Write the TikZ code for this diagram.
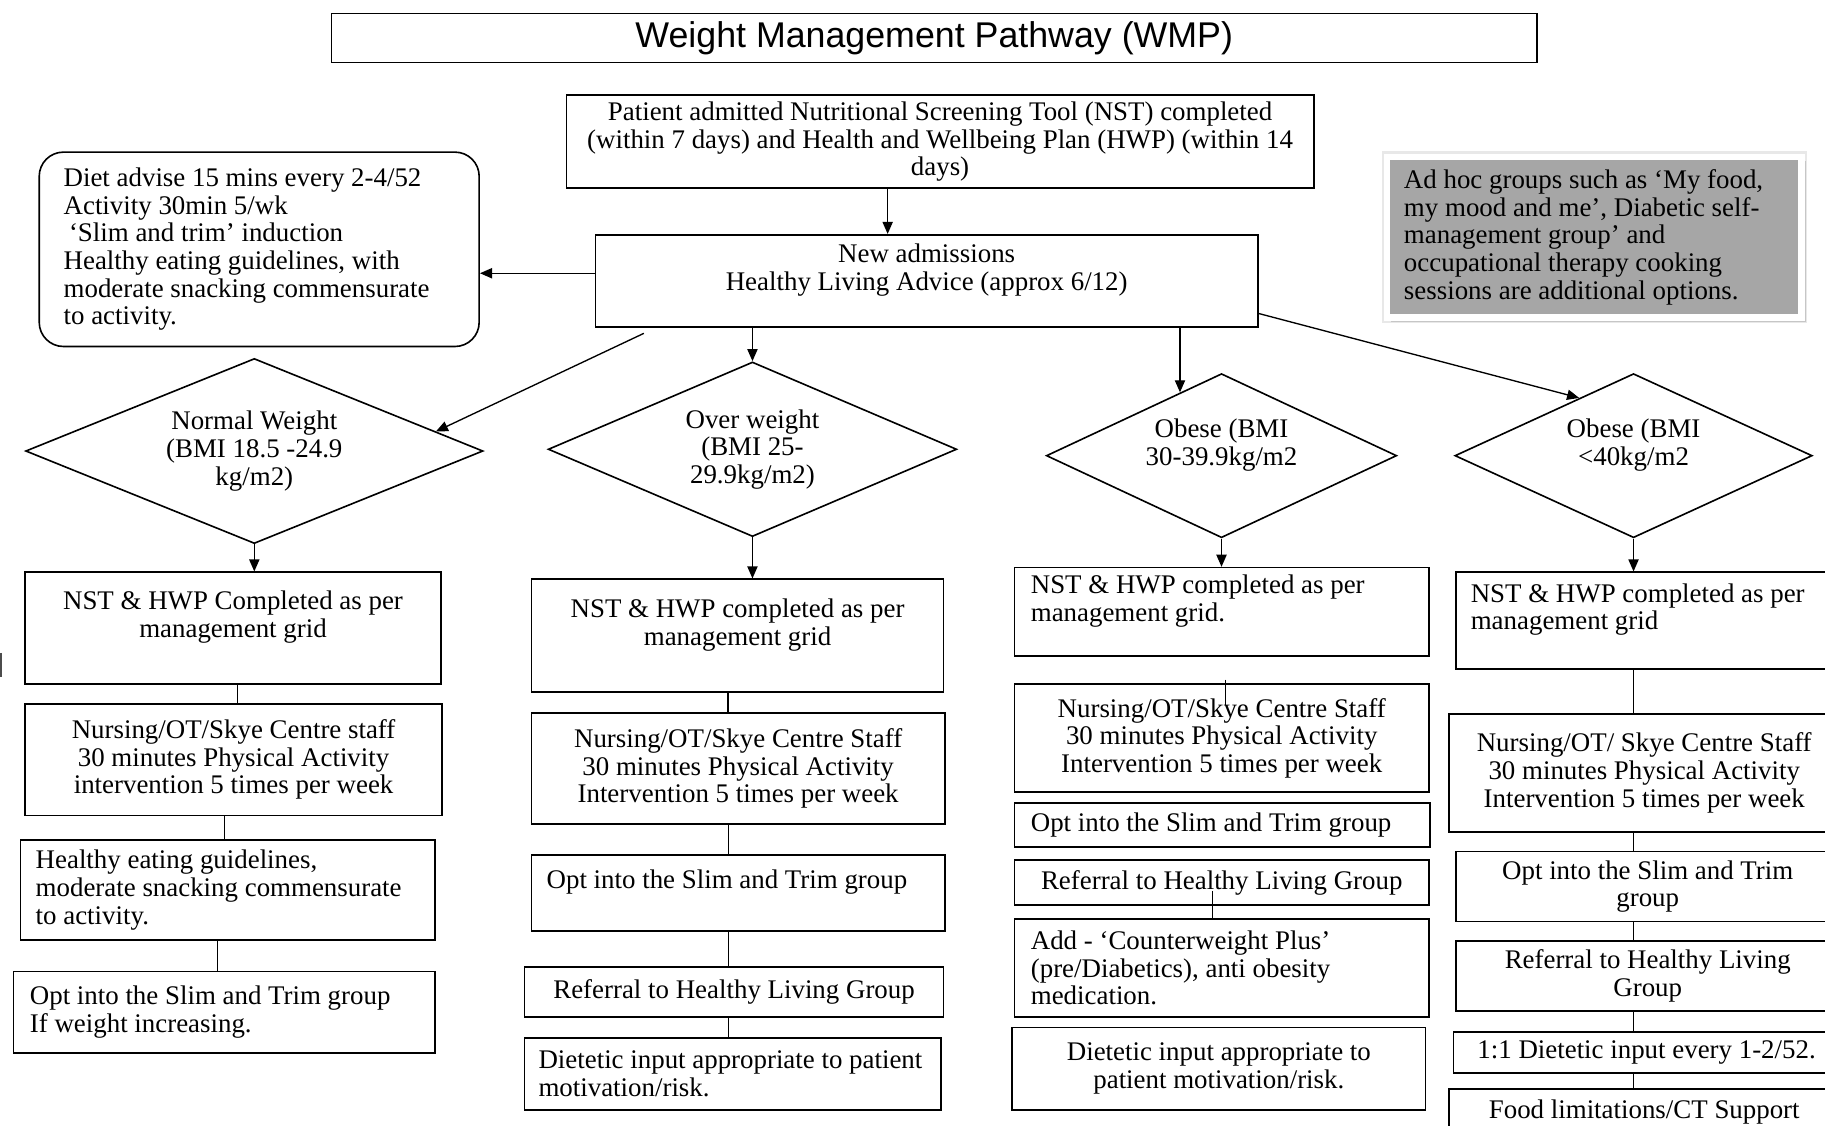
\documentclass[tikz,border=0pt]{standalone}
\usepackage{fontspec}
\setmainfont{Liberation Serif}
\newfontfamily\titlefont{Liberation Sans}
\usepackage{tikz}
\usetikzlibrary{arrows.meta,positioning,shapes.geometric,calc,shadows}
\newcommand{\pxu}{0.01522cm}

\begin{document}
\begin{tikzpicture}[x=0.01522cm, y=-0.01522cm, font=\fontsize{10}{10.3}\selectfont,
  >={Triangle[length=4.5pt,width=3.8pt]},
  dims/.style 2 args={anchor=north west, minimum width=#1*\pxu, minimum height=#2*\pxu},
  stepbox/.style={draw, line width=0.6pt, inner sep=0pt, align=center},
  leftbox/.style={stepbox, align=flush left, text width=#1*\pxu},
  decision/.style 2 args={draw, diamond, aspect=2.3, line width=0.6pt, inner sep=0pt, align=center,
    minimum width=#1*\pxu, minimum height=#2*\pxu},
  adhoc/.style={leftbox=#1, fill=gray!70, draw=white, line width=2.4pt,
    preaction={draw=gray!18, line width=4pt},
    drop shadow={shadow xshift=1.6pt, shadow yshift=-1.6pt, fill=gray!45, opacity=1}},
  arr/.style={->, line width=0.5pt},
  link/.style={line width=0.5pt}]
  \useasboundingbox (0,0) rectangle (1568,967);
  \clip (0,0) rectangle (1568,967);

  % header
  \node[stepbox, dims={1036}{42}, font=\titlefont\fontsize{13.3}{15}\selectfont] (title) at (284,11) {Weight Management Pathway (WMP)};
  \node[stepbox, dims={642}{80}] (nst) at (486,81) {Patient admitted Nutritional Screening Tool (NST) completed\\(within 7 days) and Health and Wellbeing Plan (HWP) (within 14\\days)};
  \node[stepbox, dims={569}{79}] (adm) at (511,201) {New admissions\\Healthy Living Advice (approx 6/12)\\\mbox{}};
  \node[leftbox=336, dims={378}{167}, rounded corners=9pt] (diet) at (33,130) {Diet advise 15 mins every 2-4/52\\Activity 30min 5/wk\\\hspace{2pt}‘Slim and trim’ induction\\Healthy eating guidelines, with\\moderate snacking commensurate\\to activity.};
  \node[adhoc=327, dims={356}{138}] (groups) at (1189,132) {Ad hoc groups such as ‘My food,\\my mood and me’, Diabetic self-\\management group’ and\\occupational therapy cooking\\sessions are additional options.};

  % BMI bands
  \node[decision={393}{159}] (d1) at (218.5,387.5) {Normal Weight\\(BMI 18.5 -24.9\\kg/m2)};
  \node[decision={351}{150}] (d2) at (646.5,386) {Over weight\\(BMI 25-\\29.9kg/m2)};
  \node[decision={301}{141}] (d3) at (1049.5,391.5) {Obese (BMI\\30-39.9kg/m2\\\mbox{}};
  \node[decision={307}{141}] (d4) at (1403.5,391.5) {Obese (BMI\\<40kg/m2\\\mbox{}};

  % normal weight
  \node[stepbox, dims={357}{96}] (c1a) at (21,491) {NST \& HWP Completed as per\\management grid\\\mbox{}};
  \node[stepbox, dims={358}{96}] (c1b) at (21,604) {Nursing/OT/Skye Centre staff\\30 minutes Physical Activity\\intervention 5 times per week};
  \node[leftbox=330, dims={356}{86}] (c1c) at (17,721) {Healthy eating guidelines,\\moderate snacking commensurate\\to activity.};
  \node[leftbox=334, dims={362}{70}] (c1d) at (11,834) {Opt into the Slim and Trim group\\If weight increasing.};

  % over weight
  \node[stepbox, dims={354}{97}] (c2a) at (456,497) {NST \& HWP completed as per\\management grid\\\mbox{}};
  \node[stepbox, dims={355}{95}] (c2b) at (456,612) {Nursing/OT/Skye Centre Staff\\30 minutes Physical Activity\\Intervention 5 times per week};
  \node[leftbox=329, dims={355}{65}] (c2c) at (456,734) {Opt into the Slim and Trim group\\\mbox{}};
  \node[stepbox, dims={360}{43}] (c2d) at (450,830) {Referral to Healthy Living Group};
  \node[leftbox=334, dims={358}{62}] (c2e) at (450,891) {Dietetic input appropriate to patient\\motivation/risk.};

  % obese 30-39.9
  \node[leftbox=328, dims={356}{76}] (c3a) at (871,487) {NST \& HWP completed as per\\management grid.\\\mbox{}};
  \node[stepbox, dims={356}{93}] (c3b) at (871,587) {Nursing/OT/Skye Centre Staff\\30 minutes Physical Activity\\Intervention 5 times per week};
  \node[leftbox=329, dims={357}{38}] (c3c) at (871,689) {Opt into the Slim and Trim group};
  \node[stepbox, dims={356}{39}] (c3d) at (871,738) {Referral to Healthy Living Group};
  \node[leftbox=328, dims={356}{84}] (c3e) at (871,789) {Add - ‘Counterweight Plus’\\(pre/Diabetics), anti obesity\\medication.};
  \node[stepbox, dims={355}{71}] (c3f) at (869,882) {Dietetic input appropriate to\\patient motivation/risk.};

  % obese 40+
  \node[leftbox=304, dims={330}{83}] (c4a) at (1250,491) {NST \& HWP completed as per\\management grid\\\mbox{}};
  \node[stepbox, dims={336}{101}] (c4b) at (1244,613) {Nursing/OT/ Skye Centre Staff\\30 minutes Physical Activity\\Intervention 5 times per week};
  \node[stepbox, dims={330}{60}] (c4c) at (1250,731) {Opt into the Slim and Trim\\group};
  \node[stepbox, dims={330}{60}] (c4d) at (1250,808) {Referral to Healthy Living\\Group};
  \node[stepbox, dims={332}{35}] (c4e) at (1248,886) {1:1 Dietetic input every 1-2/52.};
  \node[stepbox, dims={336}{40}] (c4f) at (1244,935) {Food limitations/CT Support};

  % stray mark at the left edge
  \draw[line width=0.8pt, gray!60!black] (1,561) -- (1,582);

  % arrows
  \draw[arr] ($(nst.south west)!0.43!(nst.south east)$) coordinate (k) -- (k |- adm.north);
  \draw[arr] ($(adm.north west)!0.42!(adm.south west)$) coordinate (k) -- (k -| diet.east);
  \draw[arr] ($(adm.south west)!0.074!(adm.south east)+(0,5)$) -- ($(d1.north)!0.791!(d1.east)$);
  \draw[arr] (d2.north |- adm.south) -- (d2.north);
  \path ($(d3.west)!0.764!(d3.north)$) coordinate (t3);
  \draw[arr] (t3 |- adm.south) -- (t3);
  \draw[arr] ($(adm.north east)!0.85!(adm.south east)$) -- ($(d4.west)!0.697!(d4.north)$);
  \foreach \d/\c in {d1/c1a, d2/c2a, d3/c3a, d4/c4a}
    \draw[arr] (\d.south) -- (\d.south |- \c.north);

  % links down the columns
  \foreach \a/\b/\r in {c1a/c1b/0.51, c1b/c1c/0.478, c1c/c1d/0.475, c2a/c2b/0.477, c2b/c2c/0.476, c2c/c2d/0.476, c2d/c2e/0.486}
    \draw[link] ($(\a.south west)!\r!(\a.south east)$) coordinate (k) -- (k |- \b.north);
  \foreach \a/\b in {c4a/c4b, c4b/c4c, c4c/c4d, c4d/c4e, c4e/c4f}
    \draw[link] (\a.south -| d4.south) -- (\b.north -| d4.south);
  \draw[link] ($(c3b.north west)!0.509!(c3b.north east)+(0,-3)$) -- ++(0,22);
  \draw[link] ($(c3d.south west)!0.477!(c3d.south east)+(0,-13)$) coordinate (k) -- (k |- c3e.north);
\end{tikzpicture}
\end{document}
